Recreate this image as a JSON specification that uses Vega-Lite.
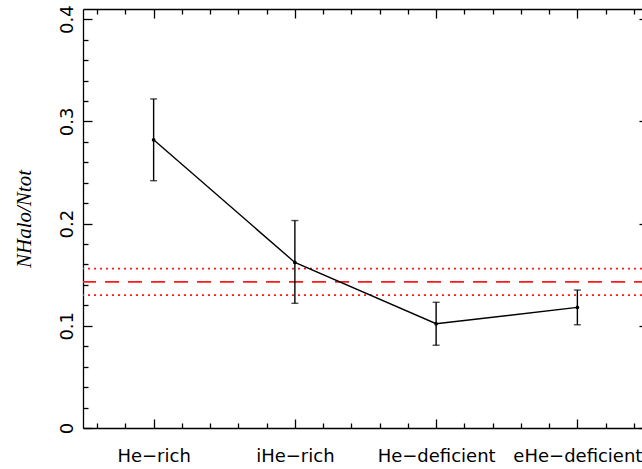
{
  "$schema": "https://vega.github.io/schema/vega-lite/v6.json",
  "width": 565,
  "height": 419,
  "autosize": {"type": "none"},
  "padding": {"left": 83, "top": 9, "right": -6, "bottom": 41},
  "background": "white",
  "datasets": {
    "pts": [
      {"category": "He-rich", "x": 1, "value": 0.282, "lo": 0.242, "hi": 0.322},
      {"category": "iHe-rich", "x": 2, "value": 0.162, "lo": 0.122, "hi": 0.203},
      {"category": "He-deficient", "x": 3, "value": 0.102, "lo": 0.081, "hi": 0.123},
      {"category": "eHe-deficient", "x": 4, "value": 0.118, "lo": 0.101, "hi": 0.135}
    ],
    "ref": [
      {"kind": "mean", "v": 0.143},
      {"kind": "upper", "v": 0.156},
      {"kind": "lower", "v": 0.130}
    ]
  },
  "config": {
    "view": {"stroke": null},
    "axis": {
      "domainColor": "black",
      "domainWidth": 1.3,
      "tickColor": "black",
      "tickWidth": 1.3,
      "tickCount": 200,
      "labelFont": "DejaVu Sans",
      "labelFontSize": 18,
      "labelColor": "black",
      "grid": false,
      "labelOverlap": false,
      "labelFlush": false,
      "labelBound": false
    }
  },
  "layer": [
    {
      "layer": [
        {
          "data": {"name": "ref"},
          "mark": {"type": "rule", "color": "#ff1a1a", "strokeWidth": 1.8},
          "encoding": {
            "y": {"field": "v", "type": "quantitative"},
            "strokeDash": {
              "field": "kind",
              "type": "nominal",
              "scale": {"domain": ["mean", "upper", "lower"], "range": [[14, 9], [2, 4], [2, 4]]},
              "legend": null
            }
          }
        },
        {
          "data": {"name": "pts"},
          "mark": {"type": "line", "color": "black", "strokeWidth": 1.4},
          "encoding": {
            "x": {
              "field": "x",
              "type": "quantitative",
              "scale": {"domain": [0.5, 4.5], "nice": false, "zero": false},
              "axis": {
                "orient": "bottom",
                "title": null,
                "tickCount": 200,
                "values": [0.6, 0.8, 1, 1.2, 1.4, 1.6, 1.8, 2, 2.2, 2.4, 2.6, 2.8, 3, 3.2, 3.4, 3.6, 3.8, 4, 4.2, 4.4],
                "tickSize": {"condition": {"test": "abs(datum.value - round(datum.value)) < 0.01", "value": -9}, "value": -5},
                "labelExpr": "abs(datum.value - round(datum.value)) < 0.01 ? ['He−rich','iHe−rich','He−deficient','eHe−deficient'][round(datum.value)-1] : ''",
                "labelBaseline": "top",
                "labelPadding": 28
              }
            },
            "y": {
              "field": "value",
              "type": "quantitative",
              "scale": {"domain": [0, 0.41], "nice": false, "zero": false},
              "axis": {
                "orient": "left",
                "title": "NHalo/Ntot",
                "titleFont": "Liberation Serif",
                "titleFontStyle": "italic",
                "titleFontWeight": "normal",
                "titleFontSize": 21,
                "titleColor": "black",
                "titlePadding": 20,
                "tickCount": 200,
                "values": [0, 0.02, 0.04, 0.06, 0.08, 0.1, 0.12, 0.14, 0.16, 0.18, 0.2, 0.22, 0.24, 0.26, 0.28, 0.3, 0.32, 0.34, 0.36, 0.38, 0.4],
                "tickSize": {"condition": {"test": "abs(datum.value*10 - round(datum.value*10)) < 0.001", "value": -9}, "value": -5},
                "labelExpr": "abs(datum.value*10 - round(datum.value*10)) < 0.001 ? (datum.value == 0 ? '0' : format(datum.value, '.1f')) : ''",
                "labelAngle": -90,
                "labelAlign": "center",
                "labelBaseline": "alphabetic",
                "labelPadding": 20
              }
            }
          }
        },
        {
          "data": {"name": "pts"},
          "mark": {"type": "rule", "color": "black", "strokeWidth": 1.4},
          "encoding": {
            "x": {"field": "x", "type": "quantitative"},
            "y": {"field": "lo", "type": "quantitative"},
            "y2": {"field": "hi"}
          }
        },
        {
          "data": {"name": "pts"},
          "mark": {"type": "tick", "color": "black", "orient": "horizontal", "size": 7, "thickness": 1.4},
          "encoding": {
            "x": {"field": "x", "type": "quantitative"},
            "y": {"field": "lo", "type": "quantitative"}
          }
        },
        {
          "data": {"name": "pts"},
          "mark": {"type": "tick", "color": "black", "orient": "horizontal", "size": 7, "thickness": 1.4},
          "encoding": {
            "x": {"field": "x", "type": "quantitative"},
            "y": {"field": "hi", "type": "quantitative"}
          }
        },
        {
          "data": {"name": "pts"},
          "mark": {"type": "circle", "color": "black", "size": 14, "opacity": 1},
          "encoding": {
            "x": {"field": "x", "type": "quantitative"},
            "y": {"field": "value", "type": "quantitative"}
          }
        }
      ]
    },
    {
      "data": {"name": "pts"},
      "mark": {"type": "point", "opacity": 0},
      "encoding": {
        "x": {
          "field": "x",
          "type": "quantitative",
          "scale": {"domain": [0.5, 4.5], "nice": false, "zero": false},
          "axis": {
            "orient": "top",
            "title": null,
            "labels": false,
            "tickCount": 200,
            "values": [0.6, 0.8, 1, 1.2, 1.4, 1.6, 1.8, 2, 2.2, 2.4, 2.6, 2.8, 3, 3.2, 3.4, 3.6, 3.8, 4, 4.2, 4.4],
            "tickSize": {"condition": {"test": "abs(datum.value - round(datum.value)) < 0.01", "value": -9}, "value": -5}
          }
        },
        "y": {
          "field": "value",
          "type": "quantitative",
          "scale": {"domain": [0, 0.41], "nice": false, "zero": false},
          "axis": {
            "orient": "right",
            "title": null,
            "labels": false,
            "tickCount": 200,
            "values": [0, 0.02, 0.04, 0.06, 0.08, 0.1, 0.12, 0.14, 0.16, 0.18, 0.2, 0.22, 0.24, 0.26, 0.28, 0.3, 0.32, 0.34, 0.36, 0.38, 0.4],
            "tickSize": {"condition": {"test": "abs(datum.value*10 - round(datum.value*10)) < 0.001", "value": -9}, "value": -5}
          }
        }
      }
    }
  ],
  "resolve": {"scale": {"x": "independent", "y": "independent"}}
}
